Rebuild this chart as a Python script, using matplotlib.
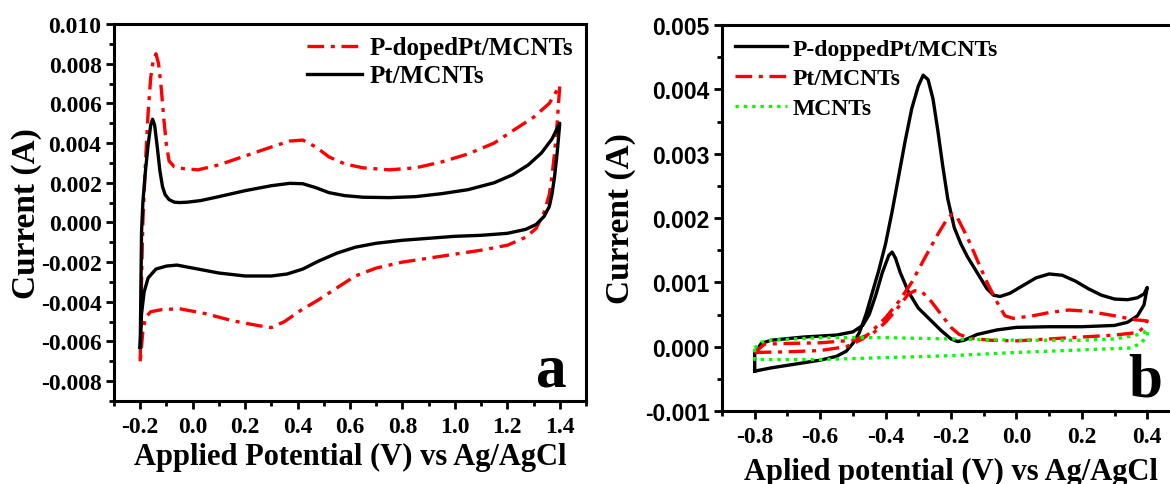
import numpy as np
import matplotlib
matplotlib.use("Agg")
import matplotlib.pyplot as plt
from matplotlib.ticker import MultipleLocator, FormatStrFormatter

plt.rcParams['axes.unicode_minus'] = False
SERIF = 'Liberation Serif'
SANS = 'Liberation Sans'

# ---- panel a : CV curves (potential V, current in mA, scaled to A below) ----
pd_x = [-0.2, -0.195, -0.19, -0.18, -0.17, -0.16, -0.15, -0.14, -0.13, -0.12, -0.11, -0.1, -0.09,
        -0.07, -0.03, 0.02, 0.1, 0.2, 0.3, 0.37, 0.42, 0.47, 0.52, 0.58, 0.65, 0.75, 0.85, 0.95,
        1.05, 1.15, 1.23, 1.3, 1.36, 1.4,
        1.39, 1.38, 1.37, 1.36, 1.34, 1.31, 1.27, 1.2, 1.1, 1.0, 0.9, 0.8, 0.7, 0.62, 0.55, 0.48,
        0.41, 0.35, 0.3, 0.25, 0.15, 0.05, -0.05, -0.12, -0.16, -0.18, -0.19, -0.2]
pd_y = [-7.0, -3.0, 0.0, 3.0, 5.5, 7.3, 8.2, 8.5, 8.0, 6.8, 5.2, 3.9, 3.1,
        2.8, 2.7, 2.65, 2.9, 3.35, 3.8, 4.1, 4.15, 3.8, 3.3, 2.95, 2.75, 2.65, 2.75, 3.05,
        3.45, 4.0, 4.7, 5.3, 6.0, 6.9,
        5.0, 3.5, 2.3, 1.4, 0.5, -0.3, -0.75, -1.15, -1.4, -1.6, -1.8, -2.0, -2.3, -2.7, -3.3, -3.9,
        -4.45, -5.0, -5.3, -5.2, -4.95, -4.6, -4.35, -4.4, -4.5, -4.8, -5.5, -7.0]

pt_x = [-0.2, -0.195, -0.19, -0.18, -0.17, -0.16, -0.153, -0.145, -0.135, -0.125, -0.115, -0.105,
        -0.09, -0.07, -0.05, -0.02, 0.03, 0.1, 0.2, 0.3, 0.37, 0.42, 0.47, 0.52, 0.58, 0.65, 0.75,
        0.85, 0.95, 1.05, 1.15, 1.22, 1.28, 1.33, 1.37, 1.4,
        1.39, 1.38, 1.37, 1.36, 1.34, 1.31, 1.27, 1.2, 1.1, 1.0, 0.9, 0.8, 0.7, 0.62, 0.55, 0.48,
        0.42, 0.36, 0.3, 0.2, 0.1, 0.0, -0.06, -0.1, -0.14, -0.17, -0.185, -0.195, -0.2]
pt_y = [-6.3, -0.5, 1.0, 2.6, 3.9, 4.9, 5.2, 4.9, 3.8, 2.6, 1.8, 1.4,
        1.15, 1.02, 1.0, 1.02, 1.1, 1.3, 1.6, 1.85, 1.97, 1.95, 1.75, 1.5, 1.35, 1.27, 1.25,
        1.3, 1.45, 1.65, 2.0, 2.4, 2.9, 3.5, 4.2, 5.0,
        3.5, 2.3, 1.4, 0.8, 0.3, -0.1, -0.35, -0.55, -0.65, -0.7, -0.8, -0.9, -1.05, -1.25, -1.55, -1.95,
        -2.35, -2.6, -2.7, -2.7, -2.55, -2.3, -2.15, -2.2, -2.35, -2.8, -3.5, -4.6, -6.3]

# ---- panel b : methanol oxidation CVs (mA) ----
b_pd_x = [-0.8, -0.75, -0.7, -0.65, -0.6, -0.55, -0.52, -0.5, -0.48, -0.46, -0.44, -0.42, -0.4,
          -0.38, -0.36, -0.34, -0.32, -0.3, -0.285, -0.27, -0.255, -0.24, -0.225, -0.21, -0.19,
          -0.17, -0.15, -0.12, -0.09, -0.07, -0.05, -0.02, 0.02, 0.06, 0.1, 0.14, 0.18, 0.22,
          0.26, 0.3, 0.34, 0.37, 0.39, 0.4,
          0.39, 0.37, 0.34, 0.3, 0.2, 0.1, 0.0, -0.06, -0.12, -0.16, -0.18, -0.2, -0.23, -0.27,
          -0.3, -0.33, -0.355, -0.37, -0.38, -0.39, -0.41, -0.43, -0.45, -0.47, -0.5, -0.55,
          -0.65, -0.75, -0.78, -0.8, -0.8]
b_pd_y = [-0.38, -0.33, -0.29, -0.25, -0.21, -0.15, -0.07, 0.05, 0.22, 0.5, 0.85, 1.2, 1.6,
          2.1, 2.65, 3.2, 3.7, 4.05, 4.22, 4.15, 3.85, 3.35, 2.8, 2.3, 1.85,
          1.6, 1.4, 1.15, 0.9, 0.8, 0.78, 0.83, 0.95, 1.07, 1.13, 1.11, 1.02, 0.9,
          0.8, 0.74, 0.73, 0.76, 0.82, 0.92,
          0.65, 0.48, 0.38, 0.33, 0.31, 0.31, 0.3, 0.26, 0.19, 0.1, 0.08, 0.12, 0.25, 0.45,
          0.6, 0.85, 1.15, 1.38, 1.47, 1.42, 1.15, 0.8, 0.5, 0.33, 0.23, 0.18,
          0.15, 0.1, 0.05, -0.1, -0.38]

b_pt_x = [-0.8, -0.7, -0.6, -0.52, -0.47, -0.44, -0.4, -0.36, -0.32, -0.28, -0.24, -0.21, -0.195,
          -0.18, -0.15, -0.12, -0.09, -0.06, -0.035, -0.01, 0.05, 0.1, 0.16, 0.22, 0.3, 0.36, 0.4,
          0.39, 0.37, 0.3, 0.2, 0.1, 0.0, -0.08, -0.14, -0.175, -0.2, -0.23, -0.26, -0.29,
          -0.31, -0.33, -0.36, -0.4, -0.44, -0.5, -0.6, -0.7, -0.77, -0.8]
b_pt_y = [-0.09, -0.08, -0.06, 0.0, 0.12, 0.25, 0.45, 0.7, 1.0, 1.38, 1.75, 2.0, 2.06,
          2.0, 1.7, 1.35, 1.0, 0.7, 0.48, 0.44, 0.48, 0.53, 0.57, 0.55, 0.48, 0.42, 0.4,
          0.3, 0.22, 0.18, 0.15, 0.12, 0.09, 0.1, 0.13, 0.19, 0.3, 0.5, 0.7, 0.86,
          0.87, 0.82, 0.62, 0.38, 0.2, 0.1, 0.06, 0.05, 0.04, -0.09]

b_c_x = [-0.8, -0.78, -0.75, -0.6, -0.4, -0.2, 0.0, 0.2, 0.3, 0.36, 0.39, 0.4,
         0.4, 0.38, 0.35, 0.2, 0.0, -0.2, -0.4, -0.6, -0.8, -0.8]
b_c_y = [-0.02, 0.07, 0.1, 0.14, 0.14, 0.12, 0.1, 0.1, 0.12, 0.17, 0.22, 0.27,
         0.17, 0.05, -0.02, -0.05, -0.09, -0.14, -0.17, -0.2, -0.2, -0.02]

dashdot = (0, (5, 2, 1.2, 2))

fig = plt.figure(figsize=(11.7, 4.85), dpi=100)

# panel a
ax1 = fig.add_axes([114/1170, 1-402/485, 472/1170, 377/485])
ax1.plot(pd_x, np.array(pd_y)*1e-3, color='red', lw=2.4, ls=dashdot, label='P-dopedPt/MCNTs')
ax1.plot(pt_x, np.array(pt_y)*1e-3, color='black', lw=2.4, label='Pt/MCNTs')
ax1.set_xlim(-0.3, 1.5)
ax1.set_ylim(-0.009, 0.010)
ax1.xaxis.set_major_locator(MultipleLocator(0.2))
ax1.xaxis.set_minor_locator(MultipleLocator(0.1))
ax1.yaxis.set_major_locator(MultipleLocator(0.002))
ax1.yaxis.set_minor_locator(MultipleLocator(0.001))
ax1.xaxis.set_major_formatter(FormatStrFormatter('%.1f'))
ax1.yaxis.set_major_formatter(FormatStrFormatter('%.3f'))
for lab in ax1.get_xticklabels() + ax1.get_yticklabels():
    lab.set_fontfamily(SERIF)
    lab.set_fontweight('bold')
    lab.set_fontsize(17)
ax1.set_xlabel('Applied Potential (V) vs Ag/AgCl', fontfamily=SERIF, fontweight='bold',
               fontsize=22, labelpad=3)
ax1.set_ylabel('Current (A)', fontfamily=SERIF, fontweight='bold', fontsize=24, labelpad=-1)
ax1.legend(loc='upper right', frameon=False, handlelength=2.2, handletextpad=0.3,
           borderaxespad=0.1, labelspacing=0.2,
           prop={'family': SERIF, 'weight': 'bold', 'size': 18})
ax1.text(0.96, 0.042, 'a', transform=ax1.transAxes, ha='right', va='baseline',
         fontfamily=SERIF, fontweight='bold', fontsize=44)

# panel b
ax2 = fig.add_axes([722/1170, 1-412/485, 458/1170, 386/485])
ax2.plot(b_pd_x, np.array(b_pd_y)*1e-3, color='black', lw=2.4, label='P-doppedPt/MCNTs')
ax2.plot(b_pt_x, np.array(b_pt_y)*1e-3, color='red', lw=2.4, ls=dashdot, label='Pt/MCNTs')
ax2.plot(b_c_x, np.array(b_c_y)*1e-3, color='#00ff00', lw=2.4, ls=(0, (1, 1.5)), label='MCNTs')
ax2.set_xlim(-0.9, 0.5)
ax2.set_ylim(-0.001, 0.005)
ax2.xaxis.set_major_locator(MultipleLocator(0.2))
ax2.xaxis.set_minor_locator(MultipleLocator(0.1))
ax2.yaxis.set_major_locator(MultipleLocator(0.001))
ax2.yaxis.set_minor_locator(MultipleLocator(0.0005))
ax2.xaxis.set_major_formatter(FormatStrFormatter('%.1f'))
ax2.yaxis.set_major_formatter(FormatStrFormatter('%.3f'))
for lab in ax2.get_xticklabels():
    lab.set_fontfamily(SERIF)
    lab.set_fontweight('bold')
    lab.set_fontsize(17)
for lab in ax2.get_yticklabels():
    lab.set_fontfamily(SANS)
    lab.set_fontweight('bold')
    lab.set_fontsize(16.5)
ax2.set_xlabel('Aplied potential (V) vs Ag/AgCl', fontfamily=SERIF, fontweight='bold',
               fontsize=22, labelpad=7)
ax2.set_ylabel('Current (A)', fontfamily=SERIF, fontweight='bold', fontsize=24, labelpad=6)
ax2.legend(loc='upper left', frameon=False, handlelength=2.2, handletextpad=0.25,
           borderaxespad=0.15, labelspacing=0.35,
           prop={'family': SERIF, 'weight': 'bold', 'size': 17})
ax2.text(0.886, 0.039, 'b', transform=ax2.transAxes, ha='left', va='baseline',
         fontfamily=SERIF, fontweight='bold', fontsize=44)

for ax in (ax1, ax2):
    for s in ax.spines.values():
        s.set_linewidth(2.2)
    ax.tick_params(which='both', direction='out', width=2, top=False, right=False)
    ax.tick_params(which='major', length=6, pad=3)
    ax.tick_params(which='minor', length=3.5)
    ax.tick_params(axis='x', which='major', pad=5)

fig.savefig('out.png', dpi=100)
